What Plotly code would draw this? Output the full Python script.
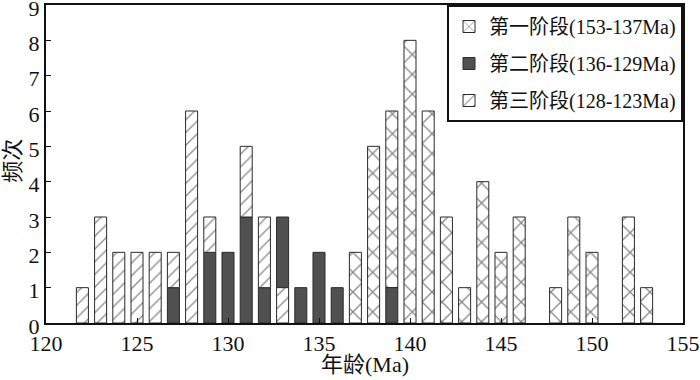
import plotly.graph_objects as go

# ---- data ----
stage1_name = "第一阶段(153-137Ma)"
stage1_ages = [137, 138, 139, 140, 141, 142, 143, 144, 145, 146, 148, 149, 150, 152, 153]
stage1_counts = [2, 5, 5, 8, 6, 3, 1, 4, 2, 3, 1, 3, 2, 3, 1]

stage2_name = "第二阶段(136-129Ma)"
stage2_ages = [127, 129, 130, 131, 132, 133, 134, 135, 136, 139]
stage2_counts = [1, 2, 2, 3, 1, 2, 1, 2, 1, 1]

stage3_name = "第三阶段(128-123Ma)"
stage3_ages = [122, 123, 124, 125, 126, 127, 128, 129, 131, 132, 133]
stage3_counts = [1, 3, 2, 2, 2, 1, 6, 1, 2, 2, 1]

x_ticks = [120, 125, 130, 135, 140, 145, 150, 155]
y_ticks = list(range(0, 10))

# stacking order of the segments within one bar (bottom first)
default_order = ["s2", "s3", "s1"]
order_override = {133: ["s3", "s2"]}

series = {
    "s1": dict(zip(stage1_ages, stage1_counts)),
    "s2": dict(zip(stage2_ages, stage2_counts)),
    "s3": dict(zip(stage3_ages, stage3_counts)),
}


def bases(key, ages):
    out = []
    for a in ages:
        order = order_override.get(a, default_order)
        b = 0
        for k in order:
            if k == key:
                break
            b += series[k].get(a, 0)
        out.append(b)
    return out


FONT = "Liberation Serif, 'Times New Roman', 'Noto Sans CJK SC', serif"
LINE = dict(color="#2a2a2a", width=1)
W = 0.66

fig = go.Figure()
fig.add_trace(go.Bar(
    name=stage1_name, x=stage1_ages, y=stage1_counts, base=bases("s1", stage1_ages),
    width=W, legendgroup="a",
    marker=dict(color="white", line=LINE,
                pattern=dict(shape="x", size=14, solidity=0.18, fgcolor="#111", bgcolor="white")),
))
fig.add_trace(go.Bar(
    name=stage2_name, x=stage2_ages, y=stage2_counts, base=bases("s2", stage2_ages),
    width=W, legendgroup="b",
    marker=dict(color="#505050", line=LINE),
))
fig.add_trace(go.Bar(
    name=stage3_name, x=stage3_ages, y=stage3_counts, base=bases("s3", stage3_ages),
    width=W, legendgroup="c",
    marker=dict(color="white", line=LINE,
                pattern=dict(shape="/", size=9, solidity=0.14, fgcolor="#111", bgcolor="white")),
))

fig.update_layout(
    width=700, height=380,
    margin=dict(l=46, r=17, t=5, b=57),
    paper_bgcolor="white", plot_bgcolor="white",
    barmode="overlay",
    font=dict(family=FONT, size=22, color="#111"),
    showlegend=True,
    legend=dict(
        x=1, y=1, xanchor="right", yanchor="top",
        bgcolor="white", bordercolor="#111", borderwidth=2,
        font=dict(family=FONT, size=20, color="#111"),
        traceorder="grouped", tracegroupgap=8,
    ),
    xaxis=dict(
        range=[120, 155], tickvals=x_ticks, ticktext=[str(v) for v in x_ticks],
        ticks="inside", ticklen=5, tickcolor="#111", automargin=False,
        ticklabeloverflow="allow",
        showline=True, linecolor="#111", linewidth=2, mirror=True,
        showgrid=False, zeroline=False,
        tickfont=dict(family=FONT, size=22, color="#111"),
    ),
    yaxis=dict(
        range=[0, 9], tickvals=y_ticks, automargin=False,
        ticklabeloverflow="allow", ticklabelshift=3,
        ticks="inside", ticklen=5, tickcolor="#111",
        showline=True, linecolor="#111", linewidth=2, mirror=True,
        showgrid=False, zeroline=False,
        tickfont=dict(family=FONT, size=22, color="#111"),
    ),
    annotations=[
        dict(text="年龄(Ma)", xref="paper", yref="paper", x=0.5, y=-0.132,
             xanchor="center", yanchor="middle", showarrow=False,
             font=dict(family=FONT, size=22, color="#111")),
        dict(text="频次", xref="paper", yref="paper", x=-0.052, y=0.51,
             xanchor="center", yanchor="middle", showarrow=False, textangle=-90,
             font=dict(family=FONT, size=22, color="#111")),
    ],
)

fig.write_html("out.html", config={"displayModeBar": False},
               post_script="document.body.style.margin='0';")
